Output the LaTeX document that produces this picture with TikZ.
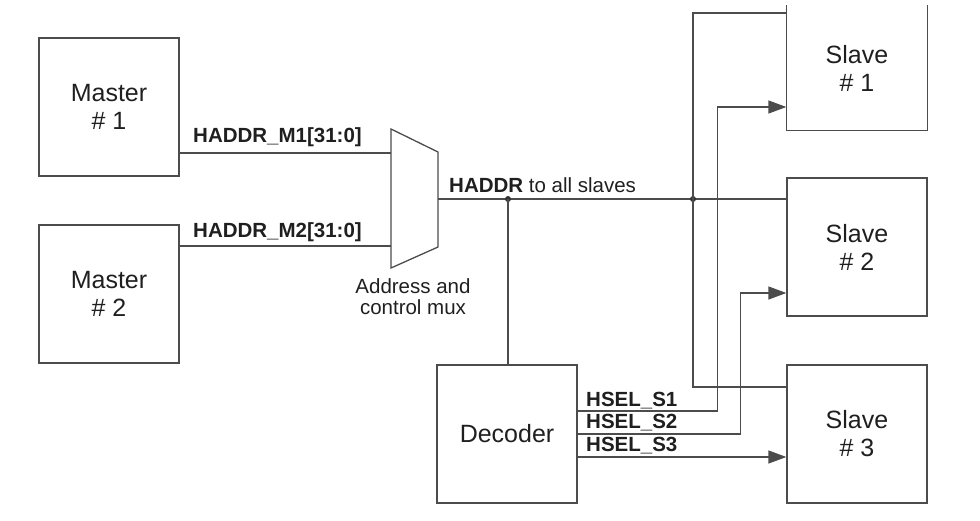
\documentclass[tikz,border=0pt]{standalone}
\usepackage{fontspec}
\setmainfont{Liberation Sans}
\usetikzlibrary{arrows.meta,calc}
\begin{document}
\begin{tikzpicture}[x=1pt,y=-1pt,
  ln/.style={draw=black!70,line width=1.3pt},
  blk/.style={ln, minimum width=140pt, minimum height=138pt, inner sep=0pt, align=center, font=\fontsize{25}{28}\selectfont, text=black!88},
  lbl/.style={inner sep=0pt, anchor=base west, font=\fontsize{20.5}{22}\selectfont\bfseries, text=black!88},
  txt/.style={inner sep=0pt, align=center, font=\fontsize{20.5}{21}\selectfont, text=black!88},
  arr/.style={ln, -{Triangle[length=18pt,width=13pt]}},
  jdot/.style={circle, fill=black!80, inner sep=0pt, minimum size=6pt}]
\useasboundingbox (0,0) rectangle (980,520);
% blocks
\node[blk] (master1) at (109,107) {Master\\\# 1};
\node[blk] (master2) at (109,294) {Master\\\# 2};
\node[blk] (decoder) at (507,434) {Decoder};
\node[blk, draw=none, minimum height=124pt] (slave1) at (857,68) {Slave\\\# 1};
\draw[ln] (slave1.north west) -- (slave1.south west) -- (slave1.south east) -- (slave1.north east);
\node[blk] (slave2) at (857,247) {Slave\\\# 2};
\node[blk] (slave3) at (857,434) {Slave\\\# 3};
% mux
\coordinate (muxtl) at (391,129);
\coordinate (muxtr) at (438,152);
\coordinate (muxbr) at (438,247);
\coordinate (muxbl) at (391,268);
\draw[ln] (muxtl) -- (muxtr) -- (muxbr) -- (muxbl) -- cycle;
\coordinate (muxin1) at (391,153);
\coordinate (muxin2) at (391,246);
\coordinate (muxout) at (438,199);
% master to mux
\draw[ln] (master1.east |- muxin1) -- (muxin1);
\draw[ln] (master2.east |- muxin2) -- (muxin2);
\node[lbl] (lm1) at (193,142) {HADDR\_M1[31:0]};
\node[lbl] (lm2) at (193,237) {HADDR\_M2[31:0]};
\node[txt] (lmux) at (413,297) {Address and\\control mux};
% HADDR bus
\draw[ln] (muxout) -- (muxout -| slave2.west);
\node[lbl, font=\fontsize{20.5}{22}\selectfont] (lhaddr) at (449,192) {\textbf{HADDR} to all slaves};
\node[jdot] (j1) at (508,199) {};
\node[jdot] (j2) at (693,199) {};
\draw[ln] (j1.center) -- (j1.center |- decoder.north);
\coordinate (t1) at (693,13);
\coordinate (t3) at (693,387);
\draw[ln] (t1 -| slave1.west) -- (t1) -- (t3) -- (t3 -| slave3.west);
% select lines
\draw[arr] ($(decoder.east)+(0,-23)$) -- ++(140,0) |- ($(slave1.west)+(0,39)$);
\draw[arr] (decoder.east) -- ++(163,0) |- ($(slave2.west)+(0,46)$);
\draw[arr] ($(decoder.east)+(0,23)$) -- ($(slave3.west)+(0,23)$);
\node[lbl] (ls1) at (586,406) {HSEL\_S1};
\node[lbl] (ls2) at (586,428) {HSEL\_S2};
\node[lbl] (ls3) at (586,451) {HSEL\_S3};
\end{tikzpicture}
\end{document}
